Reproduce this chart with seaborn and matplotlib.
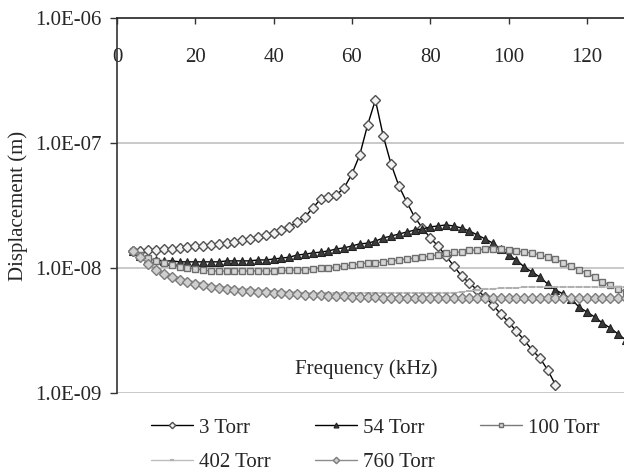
import matplotlib
matplotlib.use("Agg")
import matplotlib.pyplot as plt
import numpy as np
import pandas as pd
import seaborn as sns

# --- data (displacement, in nm) ---
freq_khz = [4, 6, 8, 10, 12, 14, 16, 18, 20, 22, 24, 26, 28, 30, 32, 34, 36, 38, 40, 42,
            44, 46, 48, 50, 52, 54, 56, 58, 60, 62, 64, 66, 68, 70, 72, 74, 76, 78, 80, 82,
            84, 86, 88, 90, 92, 94, 96, 98, 100, 102, 104, 106, 108, 110, 112, 114, 116, 118, 120, 122,
            124, 126, 128, 130]

disp_3 = [13.7, 13.7, 13.9, 13.9, 14.2, 14.2, 14.5, 14.7, 15.0, 15.0,
          15.3, 15.6, 15.8, 16.1, 16.8, 17.1, 17.7, 18.4, 19.1, 20.1,
          21.3, 23.3, 25.6, 30.2, 35.6, 37.0, 38.3, 43.7, 56.5, 80.2,
          139, 221, 114, 67.9, 45.3, 33.7, 25.6, 20.9, 17.4, 15.0,
          12.5, 10.4, 8.63, 7.59, 6.67, 5.86, 5.06, 4.29, 3.70, 3.13,
          2.65, 2.21, 1.91, 1.53, 1.16]

disp_54 = [13.7, 12.5, 11.8, 11.6, 11.4, 11.4, 11.2, 11.2, 11.2, 11.2,
           11.2, 11.2, 11.4, 11.4, 11.4, 11.4, 11.6, 11.6, 11.8, 12.0,
           12.2, 12.7, 12.9, 13.2, 13.4, 13.7, 14.2, 14.5, 15.0, 15.6,
           15.8, 16.4, 17.4, 18.0, 18.7, 19.4, 20.1, 20.5, 21.3, 21.7,
           22.1, 21.7, 20.9, 19.8, 18.4, 17.1, 15.8, 14.2, 12.7, 11.6,
           10.2, 9.29, 8.47, 7.45, 6.67, 6.19, 5.65, 4.88, 4.45, 4.06,
           3.63, 3.31, 2.96, 2.65]

disp_100 = [13.7, 12.7, 12.0, 11.4, 11.0, 10.6, 10.2, 10.0, 9.82, 9.64,
            9.46, 9.46, 9.46, 9.46, 9.46, 9.46, 9.46, 9.46, 9.46, 9.55,
            9.55, 9.64, 9.64, 9.82, 10.0, 10.0, 10.2, 10.4, 10.6, 10.8,
            11.0, 11.0, 11.2, 11.4, 11.6, 11.8, 12.0, 12.2, 12.5, 12.7,
            13.2, 13.4, 13.4, 13.9, 13.9, 14.2, 14.2, 14.2, 13.9, 13.7,
            13.4, 13.2, 12.7, 12.2, 11.8, 11.0, 10.4, 9.64, 9.12, 8.47,
            7.73, 7.31, 6.79, 6.43]

disp_402 = [13.7, 12.5, 11.2, 10.0, 9.29, 8.79, 8.32, 8.02, 7.73, 7.59,
            7.31, 7.18, 7.05, 6.92, 6.79, 6.79, 6.67, 6.67, 6.55, 6.55,
            6.43, 6.43, 6.31, 6.31, 6.31, 6.31, 6.31, 6.31, 6.31, 6.31,
            6.31, 6.31, 6.31, 6.31, 6.31, 6.31, 6.31, 6.31, 6.31, 6.31,
            6.31, 6.31, 6.43, 6.55, 6.67, 6.79, 6.79, 6.92, 6.92, 6.92,
            7.05, 7.05, 7.05, 7.05, 7.05, 7.05, 7.05, 7.05, 7.05, 7.05,
            7.05, 7.05, 7.05, 7.05]

disp_760 = [13.7, 12.2, 10.8, 9.64, 8.95, 8.47, 8.02, 7.73, 7.45, 7.31,
            7.05, 6.92, 6.79, 6.67, 6.55, 6.55, 6.43, 6.43, 6.31, 6.31,
            6.19, 6.19, 6.08, 6.08, 6.08, 5.97, 5.97, 5.97, 5.86, 5.86,
            5.86, 5.86, 5.75, 5.75, 5.75, 5.75, 5.75, 5.75, 5.75, 5.75,
            5.75, 5.75, 5.75, 5.75, 5.75, 5.75, 5.75, 5.75, 5.75, 5.75,
            5.75, 5.75, 5.75, 5.75, 5.75, 5.75, 5.75, 5.75, 5.75, 5.75,
            5.75, 5.75, 5.75, 5.75]

series_labels = ["3 Torr", "54 Torr", "100 Torr", "402 Torr", "760 Torr"]
x_ticks = [0, 20, 40, 60, 80, 100, 120]
y_ticks = [1e-9, 1e-8, 1e-7, 1e-6]
y_tick_labels = ["1.0E-09", "1.0E-08", "1.0E-07", "1.0E-06"]

# --- styling ---
sns.set_style("white")
plt.rcParams["font.family"] = ["Liberation Serif", "DejaVu Serif"]
fs = 15

styles = {
    "3 Torr": dict(color="black", marker="D", markersize=5, markerfacecolor="#f2f2f2",
                   markeredgecolor="#505050", markeredgewidth=1.0),
    "54 Torr": dict(color="black", marker="^", markersize=5.5, markerfacecolor="#3a3a3a",
                    markeredgecolor="#222222", markeredgewidth=0.8),
    "100 Torr": dict(color="#7a7a7a", marker="s", markersize=5, markerfacecolor="#d6d6d6",
                     markeredgecolor="#6e6e6e", markeredgewidth=1.0),
    "402 Torr": dict(color="#bdbdbd", marker="_", markersize=5, markeredgecolor="#b0b0b0",
                     markeredgewidth=1.5),
    "760 Torr": dict(color="#8c8c8c", marker="D", markersize=5, markerfacecolor="#cfcfcf",
                     markeredgecolor="#7c7c7c", markeredgewidth=1.0),
}

fig = plt.figure(figsize=(6.24, 4.74), dpi=100)
ax = fig.add_axes([117 / 624, 1 - 393 / 474, 507 / 624, 375 / 474])

all_disp = [disp_3, disp_54, disp_100, disp_402, disp_760]
for label, disp in zip(series_labels, all_disp):
    df = pd.DataFrame({"freq": freq_khz[:len(disp)], "disp": np.array(disp) * 1e-9})
    sns.lineplot(data=df, x="freq", y="disp", ax=ax, label=label, linewidth=1.0, **styles[label])

# --- axes ---
ax.set_yscale("log")
ax.set_ylim(1e-9, 1e-6)
ax.set_xlim(0, 129.5)
ax.set_yticks(y_ticks)
ax.set_yticklabels(y_tick_labels, fontsize=fs)
ax.yaxis.set_minor_locator(matplotlib.ticker.NullLocator())
ax.tick_params(axis="y", direction="out", length=5, width=1, color="#333333", pad=6, left=True)

ax.set_xticks(x_ticks)
ax.set_xticklabels([str(t) for t in x_ticks], fontsize=fs)
ax.xaxis.tick_top()
ax.tick_params(axis="x", direction="in", length=4, width=1, color="#333333",
               top=True, bottom=False, labeltop=True, labelbottom=False, pad=-35.5)

ax.grid(False)
for yv in y_ticks[:3]:
    ax.axhline(yv, color="#c0c0c0", linewidth=1.2, zorder=0)

for side in ["right", "bottom"]:
    ax.spines[side].set_visible(False)
ax.spines["left"].set_color("#333333")
ax.spines["top"].set_color("#222222")
ax.spines["left"].set_linewidth(1.2)
ax.spines["top"].set_linewidth(1.2)

ax.set_xlabel("")
ax.set_ylabel("Displacement (m)", fontsize=fs)
ax.yaxis.set_label_coords(-0.175, 0.5)
ax.text(0.492, 0.064, "Frequency (kHz)", transform=ax.transAxes, ha="center", va="center", fontsize=fs)

# legend in row-major order (3 columns)
handles, labels = ax.get_legend_handles_labels()
ax.get_legend().remove()
order = [0, 3, 1, 4, 2]
fig.legend([handles[i] for i in order], [labels[i] for i in order],
           loc="upper left", bbox_to_anchor=(151 / 624, 1 - 418 / 474), ncol=3,
           frameon=False, fontsize=fs, handlelength=2.0, handletextpad=0.3,
           columnspacing=2.15, labelspacing=0.72, borderpad=0, borderaxespad=0,
           markerscale=0.65)

fig.savefig("out.png", dpi=100)
